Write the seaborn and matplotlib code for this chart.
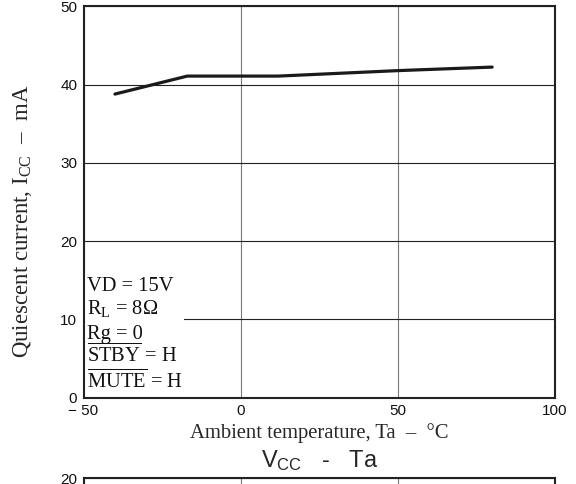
import matplotlib
matplotlib.use("Agg")
import matplotlib.pyplot as plt
import seaborn as sns
import pandas as pd
from matplotlib.patches import Rectangle

# ---- data ----
ta = [-40, -17, 12, 50, 80]
icc = [38.8, 41.1, 41.1, 41.8, 42.25]
x_ticks = [-50, 0, 50, 100]
x_ticklabels = ["\u2212 50", "0", "50", "100"]
y_ticks = [0, 10, 20, 30, 40, 50]
y_ticklabels = ["0", "10", "20", "30", "40", "50"]
y2_ticks = [0, 5, 10, 15, 20]
conditions = [
    "VD = 15V",
    "R$_{\\mathrm{L}}$ = 8\u03a9",
    "Rg = 0",
    "$\\overline{\\mathrm{STBY}}$ = H",
    "$\\overline{\\mathrm{MUTE}}$ = H",
]
title_top = "I$_{\\mathsf{CC}}$   -   Ta"
title_bottom = "V$_{\\mathsf{CC}}$   -   Ta"
xlabel = "Ambient temperature, Ta  \u2013  \u00b0C"
ylabel = "Quiescent current, I$_{\\mathrm{CC}}$  \u2013  mA"

sns.set_style("white")
plt.rcParams["font.family"] = ["Liberation Sans", "DejaVu Sans"]
plt.rcParams["mathtext.fontset"] = "custom"
plt.rcParams["mathtext.rm"] = "Liberation Serif"
plt.rcParams["mathtext.it"] = "Liberation Serif:italic"
plt.rcParams["mathtext.sf"] = "Liberation Sans"

df = pd.DataFrame({"Ta": ta, "Icc": icc})

fig = plt.figure(figsize=(5.76, 4.84), dpi=100)
L, W, H = 0.145, 0.8186, 0.8079
ax = fig.add_axes([L, 0.1787, W, H])
ax2 = fig.add_axes([L, 0.01178 - H, W, H])

SERIF = ["Liberation Serif", "DejaVu Serif"]


def style(a, ylim, yt, ytl):
    a.set_xlim(-50, 100)
    a.set_ylim(*ylim)
    a.set_xticks(x_ticks)
    a.set_xticklabels(x_ticklabels)
    a.set_yticks(yt)
    a.set_yticklabels(ytl)
    a.tick_params(axis="both", length=0, labelsize=11, colors="#111111")
    a.tick_params(axis="x", pad=4.5)
    a.tick_params(axis="y", pad=4.5)
    a.xaxis.grid(True, color="#7a7a7a", linewidth=0.8)
    a.yaxis.grid(True, color="#222222", linewidth=0.8)
    a.set_axisbelow(True)
    for s in a.spines.values():
        s.set_visible(True)
        s.set_color("#222222")
        s.set_linewidth(1.5)


style(ax, (0, 50), y_ticks, y_ticklabels)
style(ax2, (0, 20), y2_ticks, [str(v) for v in y2_ticks])

sns.lineplot(data=df, x="Ta", y="Icc", ax=ax, color="#1a1a1a", linewidth=2.3)

ax.set_xlabel(xlabel, family=SERIF, fontsize=14.9, labelpad=4)
ax.set_ylabel(ylabel, family=SERIF, fontsize=16.5)
ax.yaxis.set_label_coords(-0.105, 0.45)
ax.set_title(title_top, fontsize=17, pad=7.4)
ax2.set_title(title_bottom, fontsize=17, pad=7.4)
ax2.set_xlabel("")
ax2.set_ylabel("")

# white background behind the condition text
ax.add_patch(Rectangle((0, 0), 0.213, 0.32, transform=ax.transAxes,
                       facecolor="white", edgecolor="none", zorder=2.5))
baselines = [0.273, 0.2136, 0.150, 0.0908, 0.025]
for txt, yb in zip(conditions, baselines):
    ax.text(0.008, yb, txt, transform=ax.transAxes, family=SERIF,
            fontsize=14.8, va="baseline", ha="left", color="#111111", zorder=3)

fig.savefig("out.png", dpi=100)
